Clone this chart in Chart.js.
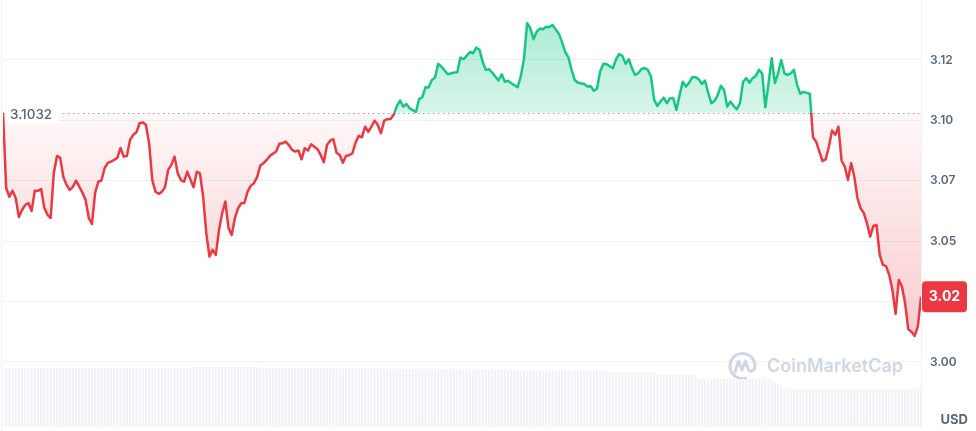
<!DOCTYPE html>
<html>
<head>
<meta charset="utf-8">
<script src="https://cdn.jsdelivr.net/npm/chart.js@4.4.1/dist/chart.umd.min.js"></script>
<style>
  html, body { margin: 0; padding: 0; background: #fff; }
  #wrap { position: relative; width: 976px; height: 431px; }
</style>
</head>
<body>
<div id="wrap"><canvas id="priceChart" width="976" height="431"></canvas></div>
<script>
const openPrice = 3.1032;
const openLabel = '3.1032';
const lastPriceLabel = '3.02';
const currency = 'USD';
const watermark = 'CoinMarketCap';
const tickValues = [3.00, 3.025, 3.05, 3.075, 3.10, 3.125];
const tickLabels = ['3.00', '3.02', '3.05', '3.07', '3.10', '3.12'];

// 5-minute slots across the 24h window (0 = start)
const priceSlots = [
  0, 1, 2, 3, 4, 5, 6, 7, 8, 9, 10, 11, 12, 13, 14, 15, 16, 17, 18, 19,
  20, 21, 22, 23, 24, 25, 26, 27, 28, 29, 30, 31, 32, 33, 34, 36, 37, 38, 39,
  40, 41, 42, 43, 44, 45, 46, 47, 48, 49, 50, 51, 52, 53, 54, 55, 56, 57, 58,
  60, 61, 62, 63, 64, 65, 66, 67, 68, 69, 70, 71, 72, 73, 74, 75, 76, 77, 78, 79,
  80, 81, 82, 83, 84, 86, 87, 88, 89, 90, 91, 92, 93, 94, 95, 96, 97, 98, 99,
  100, 101, 102, 103, 104, 105, 106, 107, 108, 109, 110, 111, 112, 113, 114, 115, 116, 117, 118, 119,
  120, 121, 122, 123, 124, 125, 126, 127, 128, 130, 131, 132, 133, 134, 135, 136, 137, 138,
  140, 142, 143, 144, 145, 146, 147, 148, 149, 150, 151, 152, 153, 154, 156, 157, 158, 159,
  160, 162, 163, 164, 165, 166, 167, 168, 169, 170, 171, 172, 173, 175, 176, 177, 178, 179,
  180, 181, 183, 184, 185, 186, 187, 188, 189, 190, 192, 193, 194, 195, 196, 197, 198, 199,
  200, 201, 202, 203, 204, 205, 206, 207, 208, 209, 210, 211, 212, 213, 214, 215, 216, 217, 218, 219,
  220, 221, 222, 223, 224, 225, 226, 227, 228, 229, 230, 231, 232, 233, 234, 235, 236, 237, 238, 239,
  240, 241, 242, 243, 244, 245, 246, 247, 248, 249, 250, 251, 252, 253, 254, 255, 256, 257, 258, 259,
  260, 261, 262, 263, 264, 265, 266, 267, 268, 269, 270, 271, 272, 273, 274, 275, 276, 277, 278, 279,
  280, 281, 282, 283, 284, 285, 286, 287, 288, 289
];
const priceValues = [
  3.1032, 3.0720, 3.0684, 3.0709, 3.0679, 3.0600, 3.0629, 3.0650, 3.0658, 3.0625, 3.0709, 3.0708, 3.0716, 3.0638, 3.0609, 3.0596, 3.0782, 3.0853, 3.0845, 3.0766,
  3.0733, 3.0712, 3.0725, 3.0751, 3.0726, 3.0701, 3.0671, 3.0596, 3.0571, 3.0700, 3.0746, 3.0751, 3.0803, 3.0824, 3.0829, 3.0845, 3.0886, 3.0850, 3.0853,
  3.0919, 3.0940, 3.0951, 3.0988, 3.0992, 3.0981, 3.0905, 3.0753, 3.0705, 3.0696, 3.0704, 3.0723, 3.0795, 3.0816, 3.0850, 3.0781, 3.0753, 3.0746, 3.0788,
  3.0723, 3.0787, 3.0781, 3.0684, 3.0533, 3.0436, 3.0464, 3.0443, 3.0546, 3.0616, 3.0664, 3.0554, 3.0526, 3.0595, 3.0636, 3.0657, 3.0658, 3.0705, 3.0729, 3.0740,
  3.0765, 3.0813, 3.0823, 3.0836, 3.0853, 3.0871, 3.0903, 3.0905, 3.0912, 3.0898, 3.0878, 3.0871, 3.0875, 3.0839, 3.0885, 3.0875, 3.0901, 3.0891, 3.0881,
  3.0857, 3.0827, 3.0898, 3.0916, 3.0922, 3.0866, 3.0857, 3.0825, 3.0853, 3.0856, 3.0864, 3.0908, 3.0936, 3.0930, 3.0974, 3.0953, 3.0974, 3.0999, 3.0981, 3.0947,
  3.0999, 3.1005, 3.1006, 3.1023, 3.1060, 3.1082, 3.1057, 3.1068, 3.1050, 3.1035, 3.1088, 3.1096, 3.1137, 3.1136, 3.1167, 3.1177, 3.1234, 3.1223,
  3.1191, 3.1198, 3.1199, 3.1260, 3.1253, 3.1268, 3.1283, 3.1278, 3.1301, 3.1292, 3.1243, 3.1209, 3.1212, 3.1198, 3.1165, 3.1191, 3.1160, 3.1164,
  3.1154, 3.1137, 3.1181, 3.1253, 3.1402, 3.1382, 3.1336, 3.1367, 3.1380, 3.1377, 3.1388, 3.1387, 3.1395, 3.1358, 3.1324, 3.1283, 3.1261, 3.1209,
  3.1167, 3.1156, 3.1151, 3.1140, 3.1141, 3.1123, 3.1131, 3.1202, 3.1234, 3.1233, 3.1216, 3.1253, 3.1275, 3.1267, 3.1234, 3.1253, 3.1216, 3.1188,
  3.1196, 3.1213, 3.1216, 3.1209, 3.1181, 3.1085, 3.1060, 3.1078, 3.1094, 3.1071, 3.1092, 3.1092, 3.1043, 3.1105, 3.1160, 3.1140, 3.1156, 3.1179, 3.1179, 3.1170,
  3.1151, 3.1165, 3.1115, 3.1071, 3.1081, 3.1105, 3.1143, 3.1126, 3.1057, 3.1078, 3.1060, 3.1046, 3.1071, 3.1160, 3.1175, 3.1156, 3.1175, 3.1184, 3.1209, 3.1195,
  3.1054, 3.1154, 3.1257, 3.1154, 3.1195, 3.1250, 3.1195, 3.1188, 3.1195, 3.1209, 3.1147, 3.1110, 3.1118, 3.1114, 3.1110, 3.0930, 3.0912, 3.0871, 3.0832, 3.0839,
  3.0891, 3.0958, 3.0940, 3.0974, 3.0833, 3.0809, 3.0753, 3.0823, 3.0767, 3.0678, 3.0636, 3.0616, 3.0574, 3.0519, 3.0563, 3.0567, 3.0443, 3.0402, 3.0397, 3.0360,
  3.0298, 3.0199, 3.0339, 3.0312, 3.0243, 3.0135, 3.0125, 3.0108, 3.0146, 3.0270
];
// volume, one bar per slot 0..289
const volumeValues = [
  590, 590, 590, 590, 590, 590, 590, 590, 590, 590, 590, 590, 590, 590, 590, 590, 590, 590, 590, 590,
  592, 592, 592, 592, 592, 592, 592, 592, 592, 592, 592, 592, 592, 592, 592, 592, 592, 592, 592, 592,
  592, 592, 592, 592, 592, 592, 592, 592, 592, 592, 592, 592, 592, 592, 592, 592, 592, 592, 592, 592,
  600, 600, 600, 600, 600, 600, 600, 600, 600, 600, 600, 600, 600, 600, 600, 600, 600, 600, 600, 600,
  600, 588, 588, 588, 588, 588, 588, 588, 588, 588, 588, 588, 588, 588, 588, 588, 588, 588, 588, 588,
  588, 588, 588, 588, 588, 588, 588, 588, 588, 588, 588, 588, 588, 588, 588, 588, 588, 588, 588, 588,
  588, 578, 578, 578, 578, 578, 578, 578, 578, 578, 578, 578, 578, 578, 578, 578, 578, 578, 578, 578,
  578, 578, 578, 578, 578, 578, 578, 578, 578, 578, 578, 578, 578, 578, 578, 578, 578, 578, 578, 578,
  578, 565, 565, 565, 565, 565, 565, 565, 565, 565, 565, 565, 565, 565, 565, 565, 565, 565, 565, 565,
  565, 565, 565, 565, 565, 565, 565, 565, 565, 565, 565, 550, 550, 550, 550, 550, 550, 550, 550, 550,
  550, 550, 550, 550, 550, 550, 520, 520, 520, 520, 520, 520, 520, 520, 520, 520, 520, 520, 520, 480,
  480, 480, 480, 480, 480, 480, 480, 480, 480, 480, 480, 480, 480, 480, 480, 480, 480, 480, 480, 480,
  480, 480, 470, 450, 430, 410, 395, 385, 380, 380, 380, 380, 380, 380, 380, 380, 380, 380, 380, 380,
  380, 380, 380, 380, 380, 380, 380, 380, 380, 380, 380, 380, 380, 380, 380, 380, 380, 380, 380, 380,
  380, 380, 380, 380, 380, 380, 380, 380, 380, 380
];

const green = '#16c784';
const red = '#ea3943';
const axisText = '#58667e';
const gridColor = '#eff2f5';

function splitAt(chart) {
  const area = chart.chartArea;
  const y = chart.scales.y.getPixelForValue(openPrice);
  return Math.min(1, Math.max(0, (y - area.top) / (area.bottom - area.top)));
}

function strokeGradient(context) {
  const chart = context.chart;
  if (!chart.chartArea) return red;
  const f = splitAt(chart);
  const g = chart.ctx.createLinearGradient(0, chart.chartArea.top, 0, chart.chartArea.bottom);
  g.addColorStop(0, green);
  g.addColorStop(f, green);
  g.addColorStop(f, red);
  g.addColorStop(1, red);
  return g;
}

function fillGradient(context) {
  const chart = context.chart;
  if (!chart.chartArea) return 'rgba(234,57,67,0.1)';
  const f = splitAt(chart);
  const g = chart.ctx.createLinearGradient(0, chart.chartArea.top, 0, chart.chartArea.bottom);
  g.addColorStop(0, 'rgba(22,199,132,0.40)');
  g.addColorStop(f, 'rgba(22,199,132,0.17)');
  g.addColorStop(f, 'rgba(234,57,67,0.04)');
  g.addColorStop(1, 'rgba(234,57,67,0.34)');
  return g;
}

const overlayPlugin = {
  id: 'overlay',
  beforeDatasetsDraw(chart) {
    const { ctx, chartArea, scales } = chart;
    const baseY = Math.round(scales.y.getPixelForValue(openPrice)) + 0.5;
    ctx.save();

    // left frame line
    ctx.strokeStyle = gridColor;
    ctx.lineWidth = 1;
    ctx.beginPath();
    ctx.moveTo(1.5, 0);
    ctx.lineTo(1.5, chart.height);
    ctx.stroke();

    // watermark logo + name
    ctx.strokeStyle = '#cfd6e4';
    ctx.lineWidth = 3;
    ctx.lineCap = 'round';
    ctx.lineJoin = 'round';
    ctx.beginPath();
    ctx.arc(742.5, 366, 12.5, 0.42 * Math.PI, 2.08 * Math.PI);
    ctx.stroke();
    ctx.beginPath();
    ctx.moveTo(735, 372);
    ctx.lineTo(738.5, 361);
    ctx.lineTo(742, 370);
    ctx.lineTo(745.5, 361);
    ctx.lineTo(748.5, 370);
    ctx.quadraticCurveTo(750.5, 373, 754, 369);
    ctx.stroke();
    ctx.fillStyle = '#cfd6e4';
    let size = 20;
    ctx.font = '600 ' + size + 'px Inter';
    size = size * 136 / ctx.measureText(watermark).width;
    ctx.font = '600 ' + size.toFixed(1) + 'px Inter';
    ctx.textBaseline = 'middle';
    ctx.textAlign = 'left';
    ctx.fillText(watermark, 767, 367);

    // dotted open-price line
    ctx.strokeStyle = '#9aa3b2';
    ctx.lineWidth = 1.2;
    ctx.lineCap = 'butt';
    ctx.setLineDash([1.5, 3.5]);
    ctx.beginPath();
    ctx.moveTo(chartArea.left, baseY);
    ctx.lineTo(chartArea.right, baseY);
    ctx.stroke();
    ctx.restore();
  },
  afterDraw(chart) {
    const { ctx, chartArea, scales } = chart;
    const baseY = scales.y.getPixelForValue(openPrice);
    const lastY = scales.y.getPixelForValue(priceValues[priceValues.length - 1]);
    ctx.save();

    // open price label
    ctx.fillStyle = '#ffffff';
    ctx.beginPath();
    ctx.roundRect(6, baseY - 9, 54, 20, 4);
    ctx.fill();
    ctx.fillStyle = axisText;
    ctx.font = '500 13.5px Inter';
    ctx.textBaseline = 'middle';
    ctx.textAlign = 'left';
    ctx.fillText(openLabel, 10, baseY + 2);

    // last price badge
    ctx.fillStyle = red;
    ctx.beginPath();
    ctx.roundRect(chartArea.right + 1, lastY - 15.5, 45, 31, 4);
    ctx.fill();
    ctx.fillStyle = '#ffffff';
    ctx.font = '700 14px Inter';
    ctx.textAlign = 'center';
    ctx.fillText(lastPriceLabel, chartArea.right + 23.5, lastY + 0.5);

    // currency
    ctx.fillStyle = axisText;
    ctx.font = '700 13px Inter';
    ctx.textAlign = 'right';
    ctx.fillText(currency, 968, 420);
    ctx.restore();
  }
};

new Chart(document.getElementById('priceChart'), {
  type: 'line',
  data: {
    datasets: [
      {
        label: 'Price',
        data: priceSlots.map((s, i) => ({ x: s, y: priceValues[i] })),
        borderColor: strokeGradient,
        backgroundColor: fillGradient,
        fill: { target: { value: openPrice } },
        borderWidth: 2.5,
        borderJoinStyle: 'round',
        pointRadius: 0,
        tension: 0,
        yAxisID: 'y',
        order: 1
      },
      {
        type: 'bar',
        label: 'Volume',
        data: volumeValues.map((v, i) => ({ x: i, y: v })),
        backgroundColor: '#f0f2f6',
        barPercentage: 0.65,
        categoryPercentage: 1,
        yAxisID: 'vol',
        order: 2
      }
    ]
  },
  options: {
    responsive: false,
    devicePixelRatio: 1,
    animation: false,
    layout: { padding: { left: 3, top: 0, right: 0, bottom: 4 } },
    plugins: { legend: { display: false }, tooltip: { enabled: false } },
    scales: {
      x: {
        type: 'linear',
        min: 0,
        max: priceSlots[priceSlots.length - 1],
        offset: false,
        display: false
      },
      y: {
        position: 'right',
        min: 2.97309,
        max: 3.14983,
        afterBuildTicks: (scale) => {
          scale.ticks = tickValues.map(v => ({ value: v }));
        },
        afterFit: (scale) => {
          scale.width = 55;
          scale.paddingTop = 0;
          scale.paddingBottom = 0;
        },
        grid: { color: gridColor, drawTicks: false },
        border: { display: true, color: gridColor },
        ticks: {
          padding: 9,
          color: axisText,
          font: { family: 'Inter', size: 12, weight: '600' },
          callback: (value, index) => tickLabels[index]
        }
      },
      vol: {
        display: false,
        min: 0,
        max: 4270
      }
    }
  },
  plugins: [overlayPlugin]
});
</script>
</body>
</html>
